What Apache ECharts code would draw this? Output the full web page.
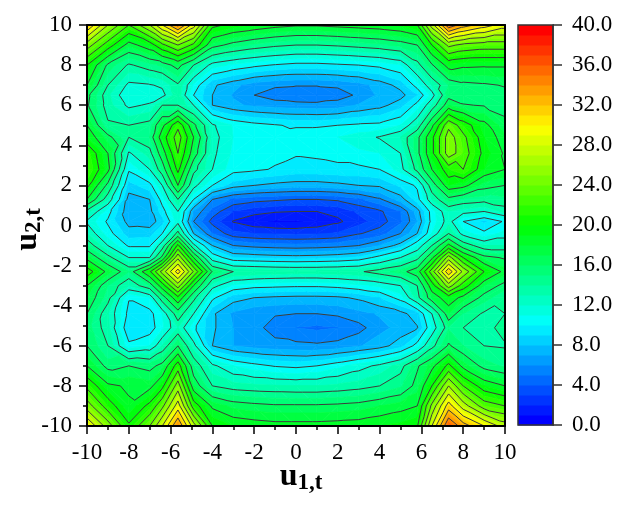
<!DOCTYPE html>
<html><head><meta charset="utf-8">
<script src="https://cdn.jsdelivr.net/npm/echarts@6/dist/echarts.min.js"></script>
<style>html,body{margin:0;padding:0;background:#fff}#c{width:620px;height:508px}</style>
</head><body><div id="c"></div>
<script>
const uValues = [-10,-9,-8,-7,-6.4,-5.65,-4.9,-4,-3,-2,-1,0,1,2,3,4,5,5.8,6.5,7.3,8,9,10];
const vValues = [10,9,8,7,6.5,6,5,4.4,3.6,2.8,2,1.3,0.7,0.2,-0.4,-1,-1.6,-2.3,-3,-3.6,-4.4,-5.1,-6,-7,-8,-9,-10];
const zRows = [
[32,26,22,26,30,34.5,29,20.5,19.5,19,18.5,18.2,18.2,18.4,18.6,18.8,19.2,20,27,35.5,33,31,29],
[25,21,17.3,19,21.5,24,21.5,16.6,15.5,14.8,14.3,14,14,14.2,14.5,14.8,15.3,16,20,24.5,23.5,23,23],
[20,15.7,13.8,14.7,15.2,16.6,14,11.5,10.8,10.3,9.9,9.6,9.6,9.8,10,10.3,11,13.5,15.8,18.7,18.3,18.2,18.2],
[18,14,11.7,11.9,12.2,13.8,10.8,8.2,7.3,6.5,6.2,6.1,6.1,6.2,6.6,7.4,8.4,10.5,13,15,15.6,15.8,16.1],
[16.4,13.2,11,11.2,11.6,13.6,10,8,6.9,6,5.4,5,5,5.5,6.2,7.2,7.6,9,11.4,15.5,15.3,15.4,15.6],
[16.2,13.4,11.7,12.2,14,14,12,8,7.2,6.8,6.6,6.5,6.4,6.5,7.1,7.6,8.6,10.4,13,17,16.1,15.9,15.6],
[18,14.2,14,14.5,17.5,21.5,16.5,12.2,10.9,10.4,10.1,9.8,9.8,10,10.2,10.3,11,13,17.5,23.5,21,18.5,16.3],
[19,16.5,14,15,19,23,18,12.5,11,10.6,10.5,10.8,10.9,11,11.5,12.1,13,15.5,19.5,25,22.5,19,17.3],
[21.5,18,11.8,13.5,17,22,17,12.3,10.8,10.4,10.3,10.1,10.2,10.4,10.8,11,12,15.5,19.5,25,23,19.5,17.8],
[22,18.5,10.2,12,15,20.5,14.5,12,10.4,10.2,9.9,9.6,9.6,9.7,9.7,10,11.5,14.5,18,21,22,19,18],
[20.5,15.5,8.6,9.6,12,18,12.5,10,8.5,8,7.7,7.5,7.5,7.7,8,8.2,9.2,10.2,15,19,18.5,16.5,16],
[18,13,7.5,8,10.5,14,10,6,4.8,4.4,4.2,4,4,4.2,4.8,5.8,7.5,9.5,13,15.5,14.8,14.5,14.8],
[13.5,10.5,7.2,7.7,9.5,12,7,4.6,3,2.4,2.1,2,2,2.3,3.2,3.8,5,7.5,10.5,13,12.5,12,13.4],
[11.8,9.8,7.6,7.4,8.6,11.5,6,3.6,1.9,1.2,0.9,0.9,1.2,1.8,2.6,3.5,4.8,7,10.4,12.6,10,8.8,10.2],
[13,10.5,8.5,8.6,10,14.6,8,5,3.3,3,2.9,2.8,2.9,3.1,3.9,4.5,6,8,11,14,11.5,10.3,11.4],
[15,12,9.8,9.8,13,20.5,12.5,8,6,5.6,5.4,5.3,5.4,5.6,6,7,8.5,11,14,18.5,15,13,13],
[17.5,14.5,12,12,16.5,25.5,18,11,9,8.8,8.6,8.5,8.6,8.8,9.2,10.5,12,13.5,17.5,25,20,16.5,15.8],
[21,17.5,15,19.7,24.8,31,23.8,15.8,14,13.8,13.6,13.5,13.5,13.6,13.8,14.6,15.4,17,23,31.5,25.5,20,17.5],
[18,15,13,15,19,25,18,12.5,10.8,10.4,10.3,10.2,10.2,10.4,10.8,11.2,12,14,19,25,21,17,15.5],
[17,14.5,10.1,11,15,19.5,14.5,10.3,8.5,8,7.8,7.7,7.7,7.8,8.2,9,10.5,13.5,17,19,17.5,15.5,14.2],
[16,13.1,9.6,9.6,11,15,12,8.2,6.8,6.3,6.1,6,6,6.2,6.7,7.1,7.6,8.6,12,17,15,13.8,14],
[15.5,13.3,9,9.4,10.8,13,10.3,8.2,7,6.4,5.5,5,4.8,5,5.6,6.7,7.3,7.9,11,14.9,14,13.6,14.4],
[16,14,10.3,11,13,16,12.5,8,7,6.6,6.4,6.3,6.2,6.4,6.9,7.5,8.6,10.5,13.5,16.2,15,14,13.9],
[18,15.5,16,15.5,16.5,21,15,12.3,11,10.4,9.9,9.7,10,10.7,11.5,12.3,13.5,15.8,17.5,20.5,17.5,15.5,14.8],
[21.5,18.3,17.8,17.5,19.5,25,17,14,13.4,13.2,13.1,13,13,13.2,13.5,14,14.8,16.5,20,26,22,19,18],
[25,21,18.2,20.5,23.5,29,21,17.7,16.7,16.4,16.2,16.2,16.2,16.3,16.5,17,17.5,18,24.5,31,27,23,22],
[30,25,20.3,24,28,34,27,20,19,18.7,18.5,18.5,18.5,18.6,18.7,19,19.3,19.8,28,36,33,30,27]
];
const colorTicks = [0,4,8,12,16,20,24,28,32,36,40];
const lineLevels = [2,4,6,8,10,12,14,16,18,20,22,24,26,28,30,32,34,36,38];
const bandCount = 40;

function bandColor(i){
  const t = i/(bandCount-1)*4, s = Math.min(3,Math.floor(t)), f = t-s;
  const c = [[0,255*f,255],[0,255,255*(1-f)],[255*f,255,0],[255,255*(1-f),0]][s];
  return 'rgb('+c.map(Math.round).join(',')+')';
}
function clipAbove(poly, lvl, keepAbove){
  const out=[];
  for(let i=0;i<poly.length;i++){
    const a=poly[i], b=poly[(i+1)%poly.length];
    const ia = keepAbove ? a[2]>=lvl : a[2]<=lvl;
    const ib = keepAbove ? b[2]>=lvl : b[2]<=lvl;
    if(ia) out.push(a);
    if(ia!==ib){
      const f=(lvl-a[2])/(b[2]-a[2]);
      out.push([a[0]+f*(b[0]-a[0]),a[1]+f*(b[1]-a[1]),lvl]);
    }
  }
  return out;
}
function isoSegment(tri,lvl){
  const pts=[];
  for(let i=0;i<3;i++){
    const a=tri[i], b=tri[(i+1)%3];
    if((a[2]<lvl)!==(b[2]<lvl)){
      const f=(lvl-a[2])/(b[2]-a[2]);
      pts.push([a[0]+f*(b[0]-a[0]),a[1]+f*(b[1]-a[1])]);
    }
  }
  return pts.length===2?pts:null;
}
const triangles=[];
for(let r=0;r<vValues.length-1;r++){
  for(let c=0;c<uValues.length-1;c++){
    const A=[uValues[c],vValues[r],zRows[r][c]], B=[uValues[c+1],vValues[r],zRows[r][c+1]];
    const C=[uValues[c+1],vValues[r+1],zRows[r+1][c+1]], D=[uValues[c],vValues[r+1],zRows[r+1][c]];
    if(Math.abs(A[2]-C[2])<=Math.abs(B[2]-D[2])){triangles.push([A,B,C],[A,C,D]);}
    else{triangles.push([A,B,D],[B,C,D]);}
  }
}
function renderTri(params,api){
  const tri=triangles[params.dataIndex];
  const zs=tri.map(p=>p[2]);
  const lo=Math.max(0,Math.floor(Math.min(...zs))), hi=Math.min(bandCount-1,Math.floor(Math.max(...zs)));
  const children=[];
  for(let b=lo;b<=hi;b++){
    const poly=clipAbove(clipAbove(tri,b,true),b+1,false);
    if(poly.length<3) continue;
    const col=bandColor(b);
    children.push({type:'polygon',shape:{points:poly.map(p=>api.coord([p[0],p[1]]))},
      style:{fill:col,stroke:col,lineWidth:0.7}});
  }
  return {type:'group',children};
}
function renderIso(params,api){
  const tri=triangles[params.dataIndex];
  const children=[];
  lineLevels.forEach(l=>{
    const s=isoSegment(tri,l);
    if(s) children.push({type:'polyline',shape:{points:s.map(p=>api.coord(p))},
      style:{fill:null,stroke:'#3c3c3c',lineWidth:1}});
  });
  return {type:'group',children};
}
function renderBand(params,api){
  const i=params.dataIndex;
  const p0=api.coord([0,i]), p1=api.coord([1,i+1]);
  return {type:'rect',shape:{x:p0[0],y:p1[1],width:p1[0]-p0[0],height:p0[1]-p1[1]+0.6},style:{fill:bandColor(i)}};
}
const serif='"Liberation Serif","Times New Roman",serif';
const lab={fontFamily:serif,fontSize:23,color:'#000'};
const triData=triangles.map(t=>[t[0][0],t[0][1]]);
const bandData=Array.from({length:bandCount},(_,i)=>[0,i]);
const nameRich={u:{fontFamily:serif,fontWeight:'bold',fontSize:32,color:'#000'},
  s:{fontFamily:serif,fontWeight:'bold',fontSize:23,color:'#000',padding:[14,0,0,0]}};
const chart=echarts.init(document.getElementById('c'),null,{renderer:'canvas'});
chart.setOption({
  animation:false,
  backgroundColor:'#fff',
  grid:[{left:87,top:25,width:418,height:401,outerBoundsMode:'none'},{left:518,top:25,width:35,height:400,outerBoundsMode:'none'}],
  xAxis:[
    {gridIndex:0,type:'value',min:-10,max:10,interval:2,position:'bottom',z:10,
     axisLine:{onZero:false,lineStyle:{color:'#000',width:2}},
     axisTick:{inside:false,length:8,lineStyle:{color:'#000',width:1.5}},
     minorTick:{show:true,splitNumber:2,length:4,lineStyle:{color:'#000',width:1.5}},
     splitLine:{show:false},axisLabel:Object.assign({margin:15,hideOverlap:false,showMinLabel:true,showMaxLabel:true},lab),
     name:'{u|u}{s|1,t}',nameLocation:'middle',nameGap:32,nameMoveOverlap:false,nameTextStyle:{rich:nameRich,padding:[0,0,0,10]}},
    {gridIndex:0,type:'value',min:-10,max:10,position:'top',z:10,axisLine:{show:true,onZero:false,lineStyle:{color:'#000',width:2}},
     axisTick:{show:false},axisLabel:{show:false},splitLine:{show:false}},
    {gridIndex:1,type:'value',min:0,max:1,show:false}
  ],
  yAxis:[
    {gridIndex:0,type:'value',min:-10,max:10,interval:2,position:'left',z:10,
     axisLine:{onZero:false,lineStyle:{color:'#000',width:2}},
     axisTick:{inside:false,length:8,lineStyle:{color:'#000',width:1.5}},
     minorTick:{show:true,splitNumber:2,length:4,lineStyle:{color:'#000',width:1.5}},
     splitLine:{show:false},axisLabel:Object.assign({margin:15,showMinLabel:true,showMaxLabel:true},lab),
     name:'{u|u}{s|2,t}',nameLocation:'middle',nameGap:41,nameRotate:90,nameMoveOverlap:false,nameTextStyle:{rich:nameRich,padding:[0,8,0,0]}},
    {gridIndex:0,type:'value',min:-10,max:10,position:'right',z:10,axisLine:{show:true,onZero:false,lineStyle:{color:'#000',width:2}},
     axisTick:{show:false},axisLabel:{show:false},splitLine:{show:false}},
    {gridIndex:1,type:'value',min:0,max:40,interval:4,position:'right',z:10,
     axisLine:{show:true,onZero:false,lineStyle:{color:'#333',width:1.5}},
     axisTick:{inside:false,length:9,lineStyle:{color:'#333',width:1.5}},
     splitLine:{show:false},
     axisLabel:Object.assign({margin:19,showMinLabel:true,showMaxLabel:true,
       customValues:colorTicks,formatter:v=>Number(v).toFixed(1)},lab)}
  ],
  series:[
    {type:'custom',xAxisIndex:0,yAxisIndex:0,coordinateSystem:'cartesian2d',data:triData,renderItem:renderTri,silent:true,z:1,clip:true,progressive:0},
    {type:'custom',xAxisIndex:0,yAxisIndex:0,coordinateSystem:'cartesian2d',data:triData,renderItem:renderIso,silent:true,z:2,clip:true,progressive:0},
    {type:'custom',xAxisIndex:2,yAxisIndex:2,coordinateSystem:'cartesian2d',data:bandData,renderItem:renderBand,silent:true,z:1,progressive:0}
  ],
  graphic:[{type:'rect',silent:true,z:100,shape:{x:518,y:25,width:35,height:400},style:{fill:null,stroke:'#333',lineWidth:1.5}}]
});
</script></body></html>
